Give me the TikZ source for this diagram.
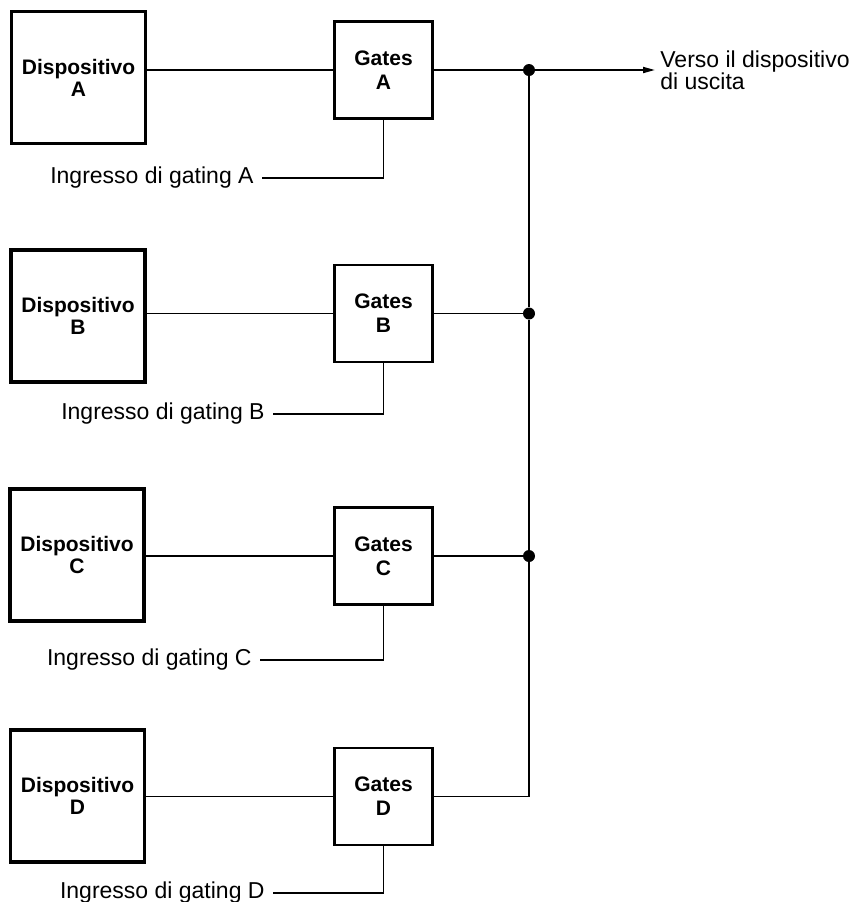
\documentclass[tikz,border=0pt]{standalone}
\usepackage{fontspec}
\setmainfont{Liberation Sans}
\usetikzlibrary{arrows.meta, positioning}

\begin{document}
\begin{tikzpicture}[
    x=0.5pt, y=-0.5pt,
    device/.style={draw, line width=1.6pt, minimum width=67pt, minimum height=66pt, align=center, font=\fontsize{10.5}{11}\selectfont\bfseries},
    gate/.style={draw, line width=1.3pt, minimum width=49pt, minimum height=48.5pt, align=center, font=\fontsize{10.5}{12}\selectfont\bfseries},
    gating/.style={anchor=east, inner xsep=4pt, inner ysep=0pt, font=\fontsize{11.5}{13}\selectfont},
    junction/.style={circle, fill, inner sep=0pt, minimum size=6pt},
    wire/.style={line width=0.9pt},
    arrow/.style={wire, -{Triangle[length=6pt, width=3pt]}}
]
\useasboundingbox (0,0) rectangle (863,902);

\node (devA) [device] at (78.5,77.5) {Dispositivo\\A};
\node (gatA) [gate] at (383.5,70) {Gates\\A};
\node (inA) [gating] at (262,178) {Ingresso di gating A};

\node (devB) [device] at (78,316) {Dispositivo\\B};
\node (gatB) [gate] at (383.5,313.5) {Gates\\B};
\node (inB) [gating] at (273,414) {Ingresso di gating B};

\node (devC) [device] at (77,555) {Dispositivo\\C};
\node (gatC) [gate] at (383.5,556) {Gates\\C};
\node (inC) [gating] at (260,660) {Ingresso di gating C};

\node (devD) [device] at (77.5,796) {Dispositivo\\D};
\node (gatD) [gate] at (383.5,796.5) {Gates\\D};
\node (inD) [gating] at (273,893) {Ingresso di gating D};

\node (jA) [junction] at (529,70) {};
\node (jB) [junction] at (529,313.5) {};
\node (jC) [junction] at (529,556) {};
\coordinate (out) at (655,70);
\node (outlabel) [right=2.5pt of out, align=left, inner sep=0pt, font=\fontsize{11.5}{11}\selectfont] {Verso il dispositivo\\di uscita};

\draw[wire] (devA.east |- gatA) -- (gatA.west);
\draw[wire] (devB.east |- gatB) -- (gatB.west);
\draw[wire] (devC.east |- gatC) -- (gatC.west);
\draw[wire] (devD.east |- gatD) -- (gatD.west);

\draw[wire] (gatA.south) |- (inA.east);
\draw[wire] (gatB.south) |- (inB.east);
\draw[wire] (gatC.south) |- (inC.east);
\draw[wire] (gatD.south) |- (inD.east);

\draw[wire] (gatA) -- (jA);
\draw[wire] (gatB) -- (jB);
\draw[wire] (gatC) -- (jC);
\draw[wire] (jA) -- (jB) -- (jC) |- (gatD);
\draw[arrow] (jA) -- (out);
\end{tikzpicture}
\end{document}
